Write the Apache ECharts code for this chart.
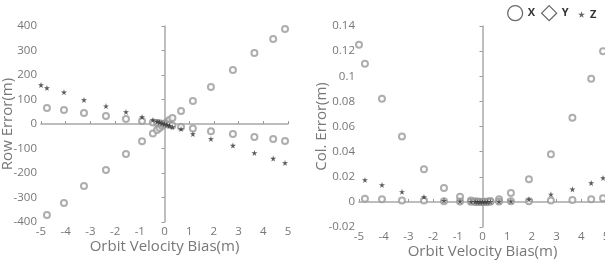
<!DOCTYPE html>
<html>
<head>
<meta charset="utf-8">
<script src="https://cdn.jsdelivr.net/npm/echarts@6/dist/echarts.min.js"></script>
<style>
  html, body { margin: 0; padding: 0; background: #fff; }
  #chart { width: 605px; height: 278px; }
</style>
</head>
<body>
<div id="chart"></div>
<script>
// orbit velocity bias (m), shared by every series
const velocityBias = [-5, -4.76, -4.07, -3.26, -2.37, -1.56, -0.91, -0.47, -0.3, -0.2, -0.1, 0, 0.1, 0.2, 0.32, 0.67, 1.15, 1.88, 2.77, 3.64, 4.4, 4.88]

// row error (m)
const rowErrX = [null, -371, -322, -253, -188, -122, -70, -39, -24, -16, -8, 0, 8, 16, 25, 53, 94, 151, 220, 290, 347, 388]
const rowErrY = [null, 65, 57, 45, 33, 20, 12, 6, 4, 3, 1, 0, -1, -3, -6, -12, -18, -30, -41, -53, -61, -69]
const rowErrZ = [159, 147, 130, 98, 73, 49, 29, 16, 10, 7, 3, 0, -3, -7, -12, -20, -41, -61, -88, -118, -141, -159]

// col error (m)
const colErrX = [0.125, 0.110, 0.082, 0.052, 0.026, 0.011, 0.004, 0.001, 0.0005, 0.0003, 0.0001, 0, 0.0001, 0.0003, 0.0006, 0.002, 0.007, 0.018, 0.038, 0.067, 0.098, 0.120]
const colErrY = [null, 0.0025, 0.002, 0.001, 0.001, 0.0005, 0.0003, 0.0001, 0, 0, 0, 0, 0, 0, 0.0001, 0.0003, 0.0005, 0.0005, 0.001, 0.0015, 0.002, 0.0028]
const colErrZ = [null, 0.0175, 0.0135, 0.008, 0.004, 0.001, 0.0005, 0.0002, 0.0001, 0, 0, 0, 0, 0, 0.0001, 0.0003, 0.0005, 0.002, 0.006, 0.010, 0.015, 0.019]

const xTicks = { min: -5, max: 5, interval: 1 }
const rowTicks = { min: -400, max: 400, interval: 100 }
const colTicks = { min: -0.02, max: 0.14, interval: 0.02 }

const STAR = 'path://M50,0 L61,35 L98,35 L68,57 L79,91 L50,70 L21,91 L32,57 L2,35 L39,35 Z'
const FONT = 'Open Sans'

const pairs = ys => velocityBias.map((x, i) => [x, ys[i]]).filter(p => p[1] !== null)

const axisCommon = {
  axisLine: { lineStyle: { color: '#a8a8a8', width: 1.5 } },
  axisLabel: { color: '#777', fontSize: 11.5, fontFamily: FONT, margin: 4 },
  splitLine: { show: false },
  nameMoveOverlap: false,
  nameTextStyle: { color: '#777', fontSize: 15, fontFamily: FONT }
}

const xAxisOf = (gridIndex) => ({
  ...axisCommon,
  gridIndex,
  type: 'value',
  ...xTicks,
  name: 'Orbit Velocity Bias(m)',
  nameLocation: 'middle',
  nameGap: 17,
  axisTick: { inside: true, length: 3, lineStyle: { color: '#999' } }
})

const yAxisOf = (gridIndex, ticks, name, gap) => ({
  ...axisCommon,
  gridIndex,
  type: 'value',
  ...ticks,
  name,
  nameLocation: 'middle',
  nameGap: gap,
  axisTick: { length: 3, lineStyle: { color: '#999' } }
})

const circleSeries = (name, idx, ys) => ({
  name,
  type: 'scatter',
  xAxisIndex: idx,
  yAxisIndex: idx,
  symbol: 'emptyCircle',
  symbolSize: 6,
  itemStyle: { color: '#9a9a9a', borderWidth: 1 },
  data: pairs(ys)
})

const starSeries = (idx, ys) => ({
  name: 'Z',
  type: 'scatter',
  xAxisIndex: idx,
  yAxisIndex: idx,
  symbol: STAR,
  symbolSize: 6,
  itemStyle: { color: '#333' },
  data: pairs(ys)
})

const chart = echarts.init(document.getElementById('chart'))

chart.setOption({
  animation: false,
  legend: [
    {
      left: 502,
      top: 0,
      itemWidth: 15,
      itemHeight: 15,
      itemGap: 6,
      textStyle: { color: '#333', fontSize: 11, fontWeight: 'bold', fontFamily: FONT },
      itemStyle: { color: '#fff', borderColor: '#444', borderWidth: 1.3 },
      data: [{ name: 'X', icon: 'circle' }, { name: 'Y', icon: 'diamond' }]
    },
    {
      left: 573,
      top: 4,
      itemWidth: 7,
      itemHeight: 7,
      textStyle: { color: '#333', fontSize: 11, fontWeight: 'bold', fontFamily: FONT },
      itemStyle: { color: '#444' },
      data: [{ name: 'Z', icon: STAR }]
    }
  ],
  grid: [
    { left: 41, top: 26, width: 247, height: 196, outerBoundsMode: 'none' },
    { left: 359, top: 26, width: 247, height: 201, outerBoundsMode: 'none' }
  ],
  xAxis: [xAxisOf(0), xAxisOf(1)],
  yAxis: [
    yAxisOf(0, rowTicks, 'Row Error(m)', 26),
    yAxisOf(1, colTicks, 'Col. Error(m)', 30)
  ],
  series: [
    circleSeries('X', 0, rowErrX),
    circleSeries('Y', 0, rowErrY),
    starSeries(0, rowErrZ),
    circleSeries('X', 1, colErrX),
    circleSeries('Y', 1, colErrY),
    starSeries(1, colErrZ)
  ]
})
</script>
</body>
</html>
